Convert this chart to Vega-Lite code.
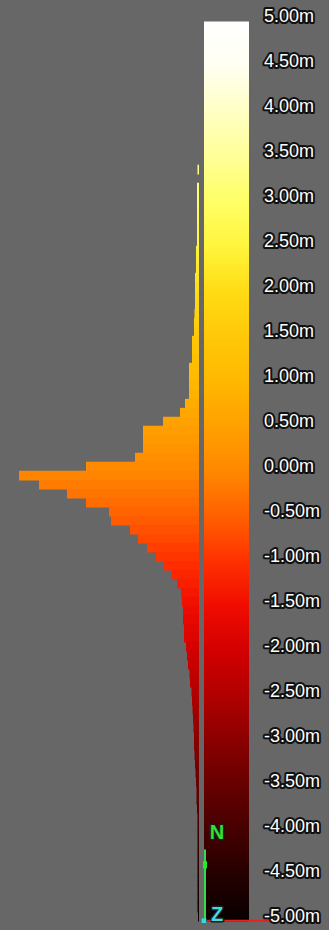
{
  "$schema": "https://vega.github.io/schema/vega-lite/v6.json",
  "width": 249,
  "height": 930,
  "autosize": "none",
  "padding": {"left": 0, "top": 0, "right": 80, "bottom": 0},
  "background": "#676767",
  "config": {"view": {"stroke": null}},
  "datasets": {
    "hist": [
      {"lo": 3.3, "hi": 3.4, "v": 3.35, "n": 1.5},
      {"lo": 3.1, "hi": 3.2, "v": 3.15, "n": 2},
      {"lo": 3.0, "hi": 3.1, "v": 3.05, "n": 2},
      {"lo": 2.9, "hi": 3.0, "v": 2.95, "n": 2},
      {"lo": 2.8, "hi": 2.9, "v": 2.85, "n": 2},
      {"lo": 2.7, "hi": 2.8, "v": 2.75, "n": 2},
      {"lo": 2.6, "hi": 2.7, "v": 2.65, "n": 2},
      {"lo": 2.5, "hi": 2.6, "v": 2.55, "n": 2},
      {"lo": 2.4, "hi": 2.5, "v": 2.45, "n": 3},
      {"lo": 2.3, "hi": 2.4, "v": 2.35, "n": 3},
      {"lo": 2.2, "hi": 2.3, "v": 2.25, "n": 3},
      {"lo": 2.1, "hi": 2.2, "v": 2.15, "n": 4},
      {"lo": 2.0, "hi": 2.1, "v": 2.05, "n": 4},
      {"lo": 1.9, "hi": 2.0, "v": 1.95, "n": 4},
      {"lo": 1.8, "hi": 1.9, "v": 1.85, "n": 4},
      {"lo": 1.7, "hi": 1.8, "v": 1.75, "n": 4.5},
      {"lo": 1.6, "hi": 1.7, "v": 1.65, "n": 5},
      {"lo": 1.5, "hi": 1.6, "v": 1.55, "n": 5},
      {"lo": 1.4, "hi": 1.5, "v": 1.45, "n": 7},
      {"lo": 1.3, "hi": 1.4, "v": 1.35, "n": 7},
      {"lo": 1.2, "hi": 1.3, "v": 1.25, "n": 7},
      {"lo": 1.1, "hi": 1.2, "v": 1.15, "n": 10},
      {"lo": 1.0, "hi": 1.1, "v": 1.05, "n": 10},
      {"lo": 0.9, "hi": 1.0, "v": 0.95, "n": 10},
      {"lo": 0.8, "hi": 0.9, "v": 0.85, "n": 10},
      {"lo": 0.7, "hi": 0.8, "v": 0.75, "n": 14},
      {"lo": 0.6, "hi": 0.7, "v": 0.65, "n": 19},
      {"lo": 0.5, "hi": 0.6, "v": 0.55, "n": 36},
      {"lo": 0.4, "hi": 0.5, "v": 0.45, "n": 56},
      {"lo": 0.3, "hi": 0.4, "v": 0.35, "n": 56},
      {"lo": 0.2, "hi": 0.3, "v": 0.25, "n": 56},
      {"lo": 0.1, "hi": 0.2, "v": 0.15, "n": 64},
      {"lo": 0.0, "hi": 0.1, "v": 0.05, "n": 113},
      {"lo": -0.1, "hi": 0.0, "v": -0.05, "n": 180},
      {"lo": -0.2, "hi": -0.1, "v": -0.15, "n": 160},
      {"lo": -0.3, "hi": -0.2, "v": -0.25, "n": 132},
      {"lo": -0.4, "hi": -0.3, "v": -0.35, "n": 113},
      {"lo": -0.5, "hi": -0.4, "v": -0.45, "n": 90},
      {"lo": -0.6, "hi": -0.5, "v": -0.55, "n": 88},
      {"lo": -0.7, "hi": -0.6, "v": -0.65, "n": 69},
      {"lo": -0.8, "hi": -0.7, "v": -0.75, "n": 61},
      {"lo": -0.9, "hi": -0.8, "v": -0.85, "n": 52},
      {"lo": -1.0, "hi": -0.9, "v": -0.95, "n": 43},
      {"lo": -1.1, "hi": -1.0, "v": -1.05, "n": 35},
      {"lo": -1.2, "hi": -1.1, "v": -1.15, "n": 27},
      {"lo": -1.3, "hi": -1.2, "v": -1.25, "n": 22},
      {"lo": -1.4, "hi": -1.3, "v": -1.35, "n": 18},
      {"lo": -1.5, "hi": -1.4, "v": -1.45, "n": 17},
      {"lo": -1.6, "hi": -1.5, "v": -1.55, "n": 16},
      {"lo": -1.7, "hi": -1.6, "v": -1.65, "n": 16},
      {"lo": -1.8, "hi": -1.7, "v": -1.75, "n": 15},
      {"lo": -1.9, "hi": -1.8, "v": -1.85, "n": 15},
      {"lo": -2.0, "hi": -1.9, "v": -1.95, "n": 13},
      {"lo": -2.1, "hi": -2.0, "v": -2.05, "n": 12},
      {"lo": -2.2, "hi": -2.1, "v": -2.15, "n": 11},
      {"lo": -2.3, "hi": -2.2, "v": -2.25, "n": 9.5},
      {"lo": -2.4, "hi": -2.3, "v": -2.35, "n": 9},
      {"lo": -2.5, "hi": -2.4, "v": -2.45, "n": 7.5},
      {"lo": -2.6, "hi": -2.5, "v": -2.55, "n": 7},
      {"lo": -2.7, "hi": -2.6, "v": -2.65, "n": 6.5},
      {"lo": -2.8, "hi": -2.7, "v": -2.75, "n": 6},
      {"lo": -2.9, "hi": -2.8, "v": -2.85, "n": 5.5},
      {"lo": -3.0, "hi": -2.9, "v": -2.95, "n": 5},
      {"lo": -3.1, "hi": -3.0, "v": -3.05, "n": 5},
      {"lo": -3.2, "hi": -3.1, "v": -3.15, "n": 4.5},
      {"lo": -3.3, "hi": -3.2, "v": -3.25, "n": 4},
      {"lo": -3.4, "hi": -3.3, "v": -3.35, "n": 3.5},
      {"lo": -3.5, "hi": -3.4, "v": -3.45, "n": 3},
      {"lo": -3.6, "hi": -3.5, "v": -3.55, "n": 2.5},
      {"lo": -3.7, "hi": -3.6, "v": -3.65, "n": 2.5},
      {"lo": -3.8, "hi": -3.7, "v": -3.75, "n": 2},
      {"lo": -3.9, "hi": -3.8, "v": -3.85, "n": 1.5},
      {"lo": -4.0, "hi": -3.9, "v": -3.95, "n": 1.5},
      {"lo": -4.1, "hi": -4.0, "v": -4.05, "n": 1.5},
      {"lo": -4.2, "hi": -4.1, "v": -4.15, "n": 1.5},
      {"lo": -4.3, "hi": -4.2, "v": -4.25, "n": 1.5},
      {"lo": -4.4, "hi": -4.3, "v": -4.35, "n": 1.5},
      {"lo": -4.5, "hi": -4.4, "v": -4.45, "n": 1.5},
      {"lo": -4.6, "hi": -4.5, "v": -4.55, "n": 1.5},
      {"lo": -4.7, "hi": -4.6, "v": -4.65, "n": 1.5},
      {"lo": -4.8, "hi": -4.7, "v": -4.75, "n": 1.5},
      {"lo": -4.9, "hi": -4.8, "v": -4.85, "n": 1.5},
      {"lo": -5.0, "hi": -4.9, "v": -4.95, "n": 1}
    ],
    "colorbar": [{"lo": -5, "hi": 5, "left": -5, "right": -50}],
    "ticks": [
      {"v": 5, "label": "5.00m"}, {"v": 4.5, "label": "4.50m"}, {"v": 4, "label": "4.00m"},
      {"v": 3.5, "label": "3.50m"}, {"v": 3, "label": "3.00m"}, {"v": 2.5, "label": "2.50m"},
      {"v": 2, "label": "2.00m"}, {"v": 1.5, "label": "1.50m"}, {"v": 1, "label": "1.00m"},
      {"v": 0.5, "label": "0.50m"}, {"v": 0, "label": "0.00m"}, {"v": -0.5, "label": "-0.50m"},
      {"v": -1, "label": "-1.00m"}, {"v": -1.5, "label": "-1.50m"}, {"v": -2, "label": "-2.00m"},
      {"v": -2.5, "label": "-2.50m"}, {"v": -3, "label": "-3.00m"}, {"v": -3.5, "label": "-3.50m"},
      {"v": -4, "label": "-4.00m"}, {"v": -4.5, "label": "-4.50m"}, {"v": -5, "label": "-5.00m"}
    ],
    "northLabel": [{"name": "N", "x": -18, "y": -4.02}],
    "zLabel": [{"name": "Z", "x": -18, "y": -4.93}],
    "northLine": [{"x": -6, "y": -4.2, "y2": -4.98}],
    "northMarker": [{"x": -6, "y": -4.33, "y2": -4.41}],
    "xLine": [{"x": -8, "x2": -70, "y": -4.99}],
    "origin": [{"x": -5, "y": -4.99}]
  },
  "layer": [
    {
      "data": {"name": "colorbar"},
      "mark": {
        "type": "rect", "strokeWidth": 0,
        "color": {
          "gradient": "linear", "x1": 0, "y1": 1, "x2": 0, "y2": 0,
          "stops": [
            {"offset": 0.00, "color": "#080000"}, {"offset": 0.05, "color": "#240000"},
            {"offset": 0.10, "color": "#440000"}, {"offset": 0.15, "color": "#660000"},
            {"offset": 0.20, "color": "#8a0000"}, {"offset": 0.25, "color": "#b00000"},
            {"offset": 0.30, "color": "#d20000"}, {"offset": 0.35, "color": "#f00c00"},
            {"offset": 0.40, "color": "#ff3000"}, {"offset": 0.45, "color": "#ff6000"},
            {"offset": 0.50, "color": "#ff8800"}, {"offset": 0.55, "color": "#ffa000"},
            {"offset": 0.60, "color": "#ffb800"}, {"offset": 0.65, "color": "#ffc808"},
            {"offset": 0.70, "color": "#ffdc14"}, {"offset": 0.75, "color": "#fff53c"},
            {"offset": 0.80, "color": "#ffff66"}, {"offset": 0.85, "color": "#ffff98"},
            {"offset": 0.90, "color": "#ffffc4"}, {"offset": 0.95, "color": "#fffff2"},
            {"offset": 1.00, "color": "#ffffff"}
          ]
        }
      },
      "encoding": {
        "x": {"field": "left", "type": "quantitative", "scale": {"domain": [-50, 199], "reverse": true, "nice": false, "zero": false}, "axis": null},
        "x2": {"field": "right"},
        "y": {"field": "lo", "type": "quantitative", "scale": {"domain": [-5.094, 5.239], "nice": false, "zero": false}, "axis": null},
        "y2": {"field": "hi"}
      }
    },
    {
      "data": {"name": "hist"},
      "mark": {"type": "rect", "strokeWidth": 0, "y2Offset": -0.7},
      "encoding": {
        "x": {"field": "n", "type": "quantitative"},
        "x2": {"datum": 0},
        "y": {"field": "lo", "type": "quantitative"},
        "y2": {"field": "hi"},
        "color": {
          "field": "v", "type": "quantitative",
          "scale": {
            "domain": [-5, -4.5, -4, -3.5, -3, -2.5, -2, -1.5, -1, -0.5, 0, 0.5, 1, 1.5, 2, 2.5, 3, 3.5, 4, 4.5, 5],
            "range": ["#080000", "#240000", "#440000", "#660000", "#8a0000", "#b00000", "#d20000", "#f00c00", "#ff3000", "#ff6000", "#ff8800", "#ffa000", "#ffb800", "#ffc808", "#ffdc14", "#fff53c", "#ffff66", "#ffff98", "#ffffc4", "#fffff2", "#ffffff"],
            "interpolate": "rgb"
          },
          "legend": null
        }
      }
    },
    {
      "data": {"name": "northLine"},
      "mark": {"type": "rule", "strokeWidth": 2, "color": "#33dd44"},
      "encoding": {
        "x": {"field": "x", "type": "quantitative"},
        "y": {"field": "y", "type": "quantitative"},
        "y2": {"field": "y2"}
      }
    },
    {
      "data": {"name": "northMarker"},
      "mark": {"type": "rule", "strokeWidth": 4, "color": "#22ee22"},
      "encoding": {
        "x": {"field": "x", "type": "quantitative"},
        "y": {"field": "y", "type": "quantitative"},
        "y2": {"field": "y2"}
      }
    },
    {
      "data": {"name": "xLine"},
      "mark": {"type": "rule", "strokeWidth": 2, "color": "#e82020"},
      "encoding": {
        "x": {"field": "x", "type": "quantitative"},
        "x2": {"field": "x2"},
        "y": {"field": "y", "type": "quantitative"}
      }
    },
    {
      "data": {"name": "origin"},
      "mark": {"type": "square", "size": 22, "filled": true, "color": "#33dddd", "opacity": 1},
      "encoding": {
        "x": {"field": "x", "type": "quantitative"},
        "y": {"field": "y", "type": "quantitative"}
      }
    },
    {
      "data": {"name": "northLabel"},
      "mark": {"type": "text", "align": "center", "baseline": "middle", "fontSize": 20, "fontWeight": "bold", "font": "Liberation Sans", "fill": "#1c1c1c", "stroke": "#1c1c1c", "strokeWidth": 3, "strokeJoin": "round"},
      "encoding": {
        "x": {"field": "x", "type": "quantitative"},
        "y": {"field": "y", "type": "quantitative"},
        "text": {"field": "name"}
      }
    },
    {
      "data": {"name": "northLabel"},
      "mark": {"type": "text", "align": "center", "baseline": "middle", "fontSize": 20, "fontWeight": "bold", "font": "Liberation Sans", "fill": "#33e033"},
      "encoding": {
        "x": {"field": "x", "type": "quantitative"},
        "y": {"field": "y", "type": "quantitative"},
        "text": {"field": "name"}
      }
    },
    {
      "data": {"name": "zLabel"},
      "mark": {"type": "text", "align": "center", "baseline": "middle", "fontSize": 20, "fontWeight": "bold", "font": "Liberation Sans", "fill": "#1c1c1c", "stroke": "#1c1c1c", "strokeWidth": 3, "strokeJoin": "round"},
      "encoding": {
        "x": {"field": "x", "type": "quantitative"},
        "y": {"field": "y", "type": "quantitative"},
        "text": {"field": "name"}
      }
    },
    {
      "data": {"name": "zLabel"},
      "mark": {"type": "text", "align": "center", "baseline": "middle", "fontSize": 20, "fontWeight": "bold", "font": "Liberation Sans", "fill": "#44d8e0"},
      "encoding": {
        "x": {"field": "x", "type": "quantitative"},
        "y": {"field": "y", "type": "quantitative"},
        "text": {"field": "name"}
      }
    },
    {
      "data": {"name": "ticks"},
      "mark": {"type": "text", "align": "left", "baseline": "middle", "dx": 15, "dy": -4.5, "font": "Liberation Sans", "fontSize": 18, "fill": "#111111", "stroke": "#111111", "strokeWidth": 4, "strokeJoin": "round"},
      "encoding": {
        "x": {"value": "width"},
        "y": {"field": "v", "type": "quantitative"},
        "text": {"field": "label"}
      }
    },
    {
      "data": {"name": "ticks"},
      "mark": {"type": "text", "align": "left", "baseline": "middle", "dx": 15, "dy": -4.5, "font": "Liberation Sans", "fontSize": 18, "fill": "#ffffff"},
      "encoding": {
        "x": {"value": "width"},
        "y": {"field": "v", "type": "quantitative"},
        "text": {"field": "label"}
      }
    }
  ]
}
